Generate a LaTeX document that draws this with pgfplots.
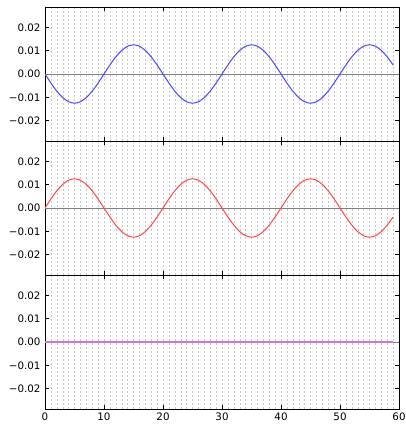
\documentclass[border=0pt]{standalone}
\usepackage{fontspec}
\setmainfont{DejaVu Sans}
\usepackage{pgfplots}
\usepackage{pgfplotstable}
\pgfplotsset{compat=1.18}
\usepgfplotslibrary{groupplots}
\definecolor{lblue}{RGB}{72,72,255}
\definecolor{lred}{RGB}{255,72,72}
\definecolor{lmag}{RGB}{214,112,222}
\definecolor{gridc}{RGB}{200,200,200}
\pgfplotstableread{
x r b m
0 0 0 0
1 0.003863 -0.003863 0
2 0.007347 -0.007347 0
3 0.010113 -0.010113 0
4 0.011888 -0.011888 0
5 0.0125 -0.0125 0
6 0.011888 -0.011888 0
7 0.010113 -0.010113 0
8 0.007347 -0.007347 0
9 0.003863 -0.003863 0
10 0 0 0
11 -0.003863 0.003863 0
12 -0.007347 0.007347 0
13 -0.010113 0.010113 0
14 -0.011888 0.011888 0
15 -0.0125 0.0125 0
16 -0.011888 0.011888 0
17 -0.010113 0.010113 0
18 -0.007347 0.007347 0
19 -0.003863 0.003863 0
20 0 0 0
21 0.003863 -0.003863 0
22 0.007347 -0.007347 0
23 0.010113 -0.010113 0
24 0.011888 -0.011888 0
25 0.0125 -0.0125 0
26 0.011888 -0.011888 0
27 0.010113 -0.010113 0
28 0.007347 -0.007347 0
29 0.003863 -0.003863 0
30 0 0 0
31 -0.003863 0.003863 0
32 -0.007347 0.007347 0
33 -0.010113 0.010113 0
34 -0.011888 0.011888 0
35 -0.0125 0.0125 0
36 -0.011888 0.011888 0
37 -0.010113 0.010113 0
38 -0.007347 0.007347 0
39 -0.003863 0.003863 0
40 0 0 0
41 0.003863 -0.003863 0
42 0.007347 -0.007347 0
43 0.010113 -0.010113 0
44 0.011888 -0.011888 0
45 0.0125 -0.0125 0
46 0.011888 -0.011888 0
47 0.010113 -0.010113 0
48 0.007347 -0.007347 0
49 0.003863 -0.003863 0
50 0 0 0
51 -0.003863 0.003863 0
52 -0.007347 0.007347 0
53 -0.010113 0.010113 0
54 -0.011888 0.011888 0
55 -0.0125 0.0125 0
56 -0.011888 0.011888 0
57 -0.010113 0.010113 0
58 -0.007347 0.007347 0
59 -0.003863 0.003863 0
}\datatable
\begin{document}
\begin{tikzpicture}
\begin{groupplot}[
  group style={group size=1 by 3, vertical sep=0pt, xticklabels at=edge bottom},
  width=354pt, height=134pt, scale only axis,
  xmin=0, xmax=60, ymin=-0.0287, ymax=0.0287,
  scaled y ticks=false,
  xtick={0,10,20,30,40,50,60},
  minor x tick num=9,
  ytick={-0.02,-0.01,0,0.01,0.02},
  yticklabels={−0.02,−0.01,0.00,0.01,0.02},
  tick label style={font=\fontsize{10.3}{12}\selectfont},
  /pgf/number format/assume math mode=true,
  xmajorgrids, xminorgrids,
  major grid style={gridc, dash pattern=on 2pt off 2pt, line width=0.4pt},
  minor grid style={gridc, dash pattern=on 2pt off 2pt, line width=0.4pt},
  major tick length=4pt, minor tick length=0pt,
  tick style={black, line width=0.6pt},
  axis line style={black, line width=0.8pt},
  tick align=inside,
  yticklabel style={xshift=-1pt},
]
\nextgroupplot
\addplot[gray, line width=0.8pt, forget plot] coordinates {(0,0) (60,0)};
\addplot[lblue, line width=1pt, smooth] table[x=x, y=b] {\datatable};
\nextgroupplot
\addplot[gray, line width=0.8pt, forget plot] coordinates {(0,0) (60,0)};
\addplot[lred, line width=1pt, smooth] table[x=x, y=r] {\datatable};
\nextgroupplot
\addplot[gray, line width=0.8pt, forget plot] coordinates {(0,0) (60,0)};
\addplot[lmag, line width=1.6pt] table[x=x, y=m] {\datatable};
\end{groupplot}
\pgfresetboundingbox
\path ([shift={(-45pt,7pt)}]group c1r1.north west) rectangle ([shift={(6pt,-16pt)}]group c1r3.south east);
\end{tikzpicture}
\end{document}
